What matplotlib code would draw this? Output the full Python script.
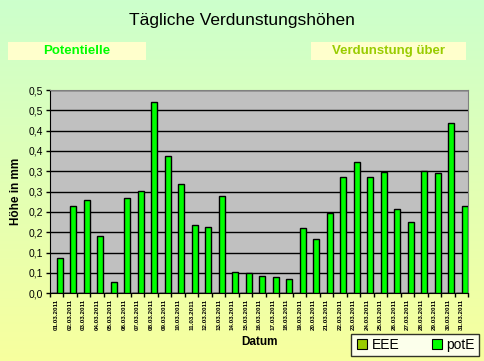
import numpy as np
import matplotlib
matplotlib.use('Agg')
import matplotlib.pyplot as plt
from matplotlib.patches import Rectangle
from matplotlib.lines import Line2D

# daily values (mm)
days = ['%02d.03.2011' % d for d in range(1, 32)]
potE = [0.088, 0.214, 0.229, 0.140, 0.027, 0.234, 0.251, 0.470, 0.337, 0.268,
        0.167, 0.162, 0.239, 0.052, 0.049, 0.042, 0.039, 0.034, 0.160, 0.133,
        0.198, 0.285, 0.322, 0.285, 0.298, 0.207, 0.175, 0.300, 0.295, 0.418,
        0.214]
EEE = [0.0] * 31
yticks = [0.0, 0.05, 0.1, 0.15, 0.2, 0.25, 0.3, 0.35, 0.4, 0.45, 0.5]
ylabels = ['0,0', '0,1', '0,1', '0,2', '0,2', '0,3', '0,3', '0,4', '0,4', '0,5', '0,5']

W, H = 484, 361
fig = plt.figure(figsize=(W / 100, H / 100), dpi=100)

# background gradient green -> yellow
bg = fig.add_axes([0, 0, 1, 1], zorder=-10)
top = np.array([0.80, 1.0, 0.80])
bot = np.array([0.97, 1.0, 0.62])
t = np.linspace(0, 1, 200)[:, None]
grad = top * (1 - t) + bot * t
bg.imshow(grad[:, None, :], aspect='auto', extent=[0, 1, 0, 1])
bg.axis('off')

def fx(px):
    return px / W

def fy(py):
    return 1 - py / H

ax = fig.add_axes([fx(50), fy(293.3), fx(418.3), 203.3 / H])
ax.set_facecolor('#C0C0C0')

x = np.arange(len(days))
w = 0.445
ax.bar(x - w / 2, EEE, w, color='#99CC00', edgecolor='black', linewidth=1, zorder=3)
ax.bar(x + w / 2, potE, w, color='#00FF00', edgecolor='black', linewidth=1, zorder=3)

ax.set_xlim(-0.5, len(days) - 0.5)
ax.set_ylim(0, 0.5)
ax.set_yticks(yticks)
ax.set_yticklabels(ylabels, fontsize=7.5, family='Liberation Sans')
ax.yaxis.grid(True, color='black', linewidth=1)
ax.set_axisbelow(True)
ax.tick_params(axis='y', length=3, width=1, pad=2)

ax.set_xticks(x)
ax.set_xticklabels(days, rotation=90, fontsize=4.5, fontweight='bold',
                   family='Liberation Sans')
ax.set_xticks(np.arange(-0.5, len(days)), minor=True)
ax.tick_params(axis='x', which='major', length=0, pad=4)
ax.tick_params(axis='x', which='minor', length=3, width=1)

for s in ['top', 'right']:
    ax.spines[s].set_color('#808080')
for s in ['left', 'bottom']:
    ax.spines[s].set_color('black')

ax.set_ylabel('Höhe in mm', fontsize=8.5, fontweight='bold', family='Liberation Sans',
              labelpad=5)
ax.set_xlabel('Datum', fontsize=8.5, fontweight='bold', family='Liberation Sans',
              labelpad=4)

fig.text(fx(242), fy(20), 'Tägliche Verdunstungshöhen', ha='center', va='center',
         fontsize=12.5, family='Liberation Sans')

# header boxes
fig.patches.append(Rectangle((fx(8), fy(60)), fx(138), 18 / H, transform=fig.transFigure,
                             facecolor='#FFFFCC', edgecolor='none'))
fig.text(fx(77), fy(51), 'Potentielle', ha='center', va='center', fontsize=9.5,
         fontweight='bold', color='#00FF00', family='Liberation Sans')
fig.patches.append(Rectangle((fx(311), fy(60)), fx(155), 18 / H, transform=fig.transFigure,
                             facecolor='#FFFFCC', edgecolor='none'))
fig.text(fx(388), fy(51), 'Verdunstung über', ha='center', va='center', fontsize=9.5,
         fontweight='bold', color='#99CC00', family='Liberation Sans')

handles = [Line2D([], [], marker='s', linestyle='none', markersize=7,
                  markerfacecolor='#99CC00', markeredgecolor='black', markeredgewidth=0.8),
           Line2D([], [], marker='s', linestyle='none', markersize=7,
                  markerfacecolor='#00FF00', markeredgecolor='black', markeredgewidth=0.8)]
leg = fig.legend(handles, ['EEE', 'potE'], ncol=2, loc='center',
                 bbox_to_anchor=(fx(415), fy(345)), frameon=True, fancybox=False,
                 prop={'family': 'Liberation Sans', 'size': 10}, handletextpad=0.2,
                 columnspacing=2.2, handlelength=1.0, borderpad=0.3)
leg.get_frame().set_edgecolor('black')
leg.get_frame().set_linewidth(1)

fig.savefig('out.png', dpi=100)
